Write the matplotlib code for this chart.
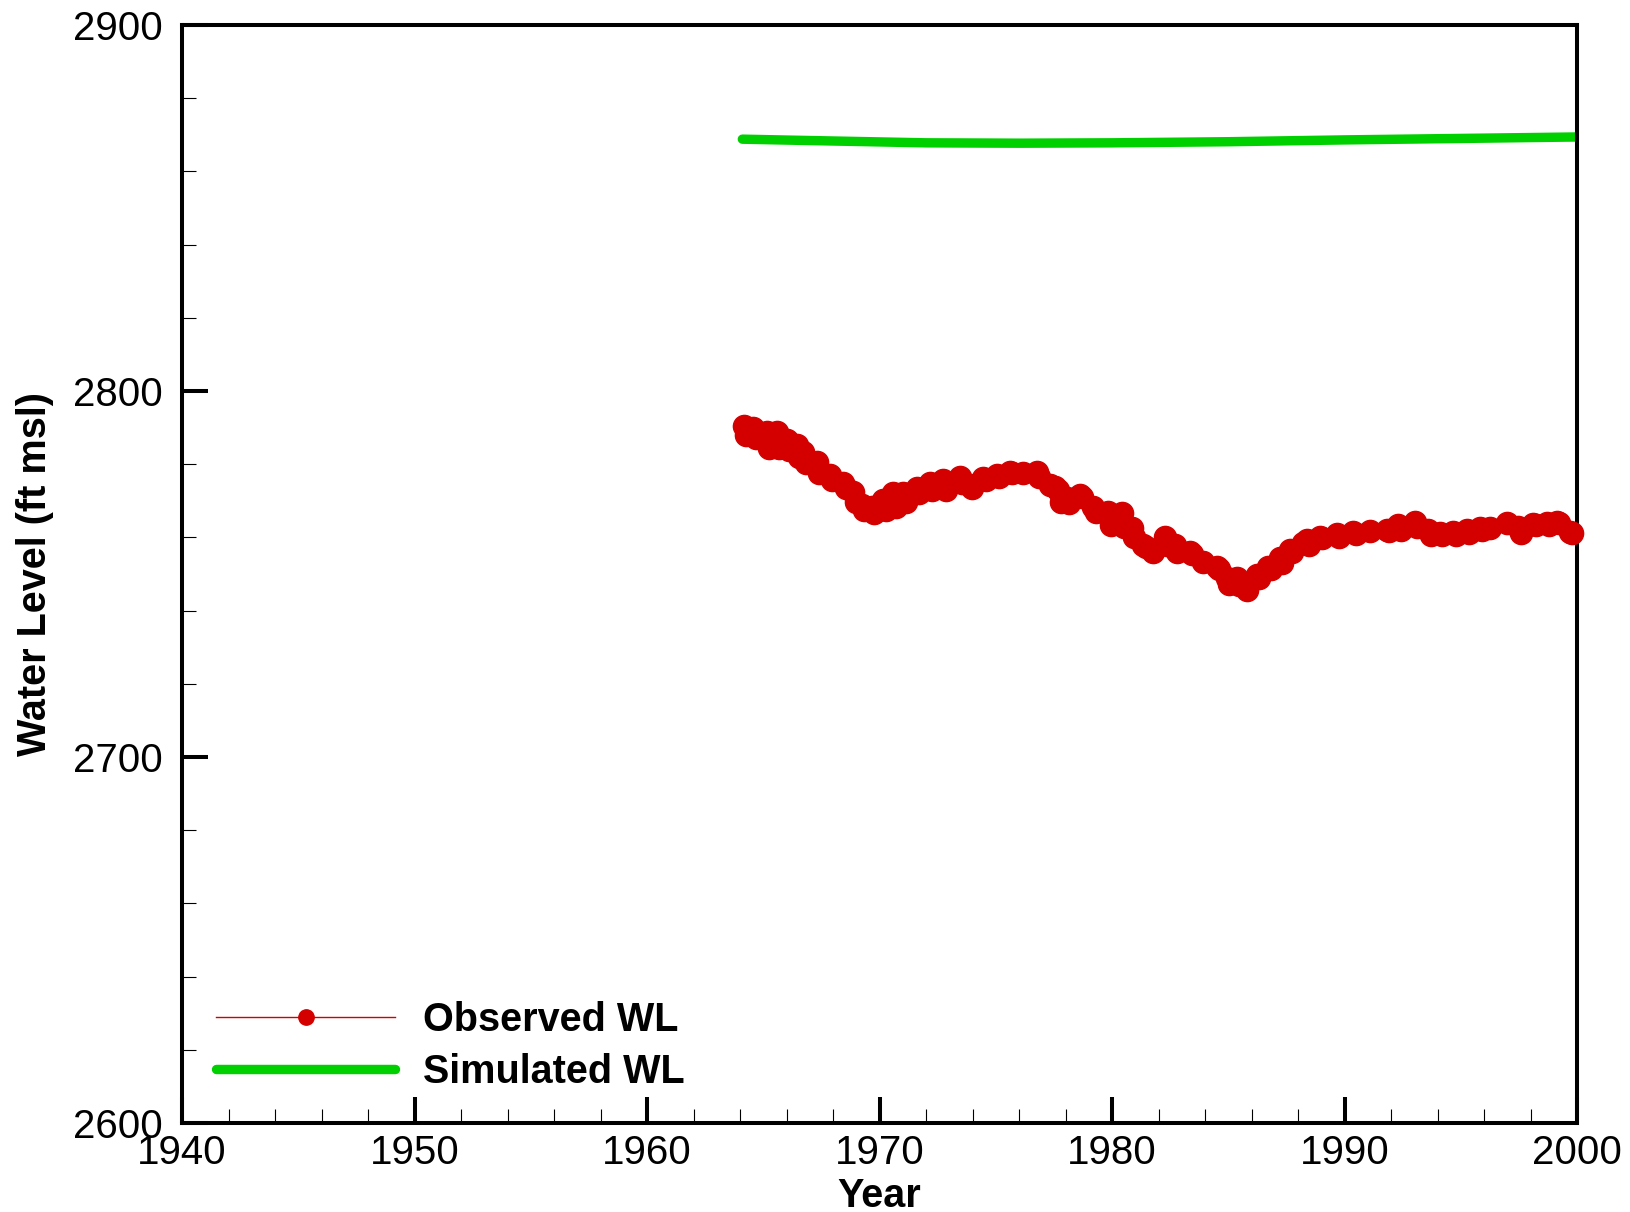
import matplotlib
matplotlib.use('Agg')
from matplotlib import pyplot as plt
from matplotlib.ticker import MultipleLocator

plt.rcParams['font.family'] = ['Liberation Sans', 'DejaVu Sans']

# observed water level (ft msl)
obs_year = [1964.15, 1964.25, 1964.57, 1964.67, 1965.15, 1965.25, 1965.58, 1965.68,
            1966.01, 1966.11, 1966.44, 1966.54, 1966.72, 1966.82, 1967.30, 1967.40,
            1967.87, 1967.97, 1968.44, 1968.54, 1968.87, 1968.97, 1969.23, 1969.33,
            1969.66, 1969.76, 1970.16, 1970.26, 1970.60, 1970.70, 1971.03, 1971.13,
            1971.60, 1971.70, 1972.17, 1972.27, 1972.75, 1972.85, 1973.46, 1973.56,
            1973.89, 1973.99, 1974.47, 1974.57, 1975.04, 1975.14, 1975.61, 1975.71,
            1976.19, 1976.76, 1976.86, 1977.33, 1977.55, 1977.69, 1977.79, 1978.05,
            1978.15, 1978.62, 1978.72, 1979.20, 1979.30, 1979.84, 1979.94, 1980.42,
            1980.52, 1980.85, 1980.95, 1981.35, 1981.45, 1981.78, 1982.28, 1982.38,
            1982.71, 1982.81, 1983.35, 1983.45, 1983.93, 1984.50, 1984.60, 1984.93,
            1985.03, 1985.36, 1985.46, 1985.72, 1985.82, 1986.22, 1986.32, 1986.72,
            1986.82, 1987.23, 1987.33, 1987.66, 1987.76, 1988.23, 1988.37, 1988.47,
            1988.95, 1989.05, 1989.66, 1989.76, 1990.38, 1990.48, 1991.10, 1991.81,
            1991.91, 1992.32, 1992.42, 1993.03, 1993.13, 1993.61, 1993.71, 1994.11,
            1994.21, 1994.68, 1994.78, 1995.25, 1995.35, 1995.83, 1995.93, 1996.26,
            1996.97, 1997.48, 1997.58, 1998.12, 1998.22, 1998.70, 1998.80, 1999.13,
            1999.23, 1999.70, 1999.80]
obs_wl = [2790.3, 2788.0, 2789.8, 2787.1, 2788.9, 2784.3, 2788.9, 2784.3,
          2786.6, 2783.9, 2785.2, 2782.1, 2783.4, 2780.2, 2780.7, 2777.5,
          2777.0, 2775.7, 2774.8, 2773.4, 2772.5, 2769.8, 2768.8, 2767.5,
          2768.4, 2766.6, 2770.2, 2767.5, 2772.0, 2768.4, 2772.0, 2769.8,
          2773.4, 2772.0, 2774.8, 2773.0, 2775.7, 2773.0, 2776.6, 2774.8,
          2774.3, 2773.4, 2776.1, 2775.7, 2777.0, 2776.6, 2778.0, 2777.5,
          2777.5, 2778.0, 2776.6, 2774.3, 2773.9, 2773.0, 2769.8, 2770.7,
          2769.3, 2771.6, 2771.1, 2768.4, 2767.0, 2767.0, 2763.4, 2766.6,
          2762.9, 2762.5, 2760.2, 2757.9, 2757.5, 2756.1, 2760.2, 2757.9,
          2757.9, 2756.1, 2756.1, 2755.6, 2753.4, 2752.0, 2751.5, 2748.8,
          2747.4, 2748.8, 2747.0, 2747.0, 2745.6, 2749.7, 2748.8, 2752.0,
          2751.5, 2754.3, 2752.9, 2756.6, 2756.1, 2758.4, 2759.3, 2757.9,
          2760.2, 2759.7, 2760.8, 2760.2, 2761.4, 2760.8, 2761.7, 2762.0,
          2761.7, 2763.4, 2762.0, 2764.3, 2762.9, 2762.0, 2760.7, 2761.1,
          2760.7, 2761.6, 2760.7, 2762.0, 2761.1, 2762.5, 2762.0, 2762.5,
          2763.8, 2762.9, 2761.1, 2763.6, 2763.4, 2763.8, 2763.4, 2764.3,
          2763.8, 2761.6, 2761.1]

# simulated water level
sim_year = [1964.1, 1968, 1972, 1976, 1980, 1985, 1990, 1995, 2000]
sim_wl = [2868.8, 2868.3, 2867.8, 2867.7, 2867.8, 2868.1, 2868.6, 2869.0, 2869.4]

red = '#d40000'
green = '#00d000'

fig = plt.figure(figsize=(16.31, 12.12), dpi=100)
ax = fig.add_axes([0.1116, 0.0734, 0.8553, 0.906])

ax.plot(obs_year, obs_wl, color=red, lw=1, marker='o', ms=16, mec=red, mfc=red,
        label='Observed WL', zorder=3, clip_on=False)
ax.plot(sim_year, sim_wl, color=green, lw=6.8, solid_capstyle='round',
        label='Simulated WL', zorder=2)

ax.set_xlim(1940, 2000)
ax.set_ylim(2600, 2900)
ax.xaxis.set_major_locator(MultipleLocator(10))
ax.xaxis.set_minor_locator(MultipleLocator(2))
ax.yaxis.set_major_locator(MultipleLocator(100))
ax.yaxis.set_minor_locator(MultipleLocator(20))

for s in ax.spines.values():
    s.set_linewidth(2.9)
ax.tick_params(which='major', direction='in', length=19, width=2.9, labelsize=29)
ax.tick_params(which='minor', direction='in', length=10, width=0.8)
ax.tick_params(axis='y', which='major', pad=14)
ax.tick_params(axis='x', which='major', pad=8)

ax.set_xlabel('Year', fontsize=28.5, fontweight='bold')
ax.set_ylabel('Water Level (ft msl)', fontsize=28.5, fontweight='bold')
ax.xaxis.set_label_coords(0.5, -0.049)
ax.yaxis.set_label_coords(-0.092, 0.5)

leg = ax.legend(loc='lower left', bbox_to_anchor=(0.0105, 0.011), frameon=False,
                borderpad=0, handlelength=4.5, handletextpad=0.72, markerscale=0.69,
                labelspacing=0.35, prop={'size': 28.5, 'weight': 'bold'})

plt.savefig('out.png', dpi=100)
plt.close()
